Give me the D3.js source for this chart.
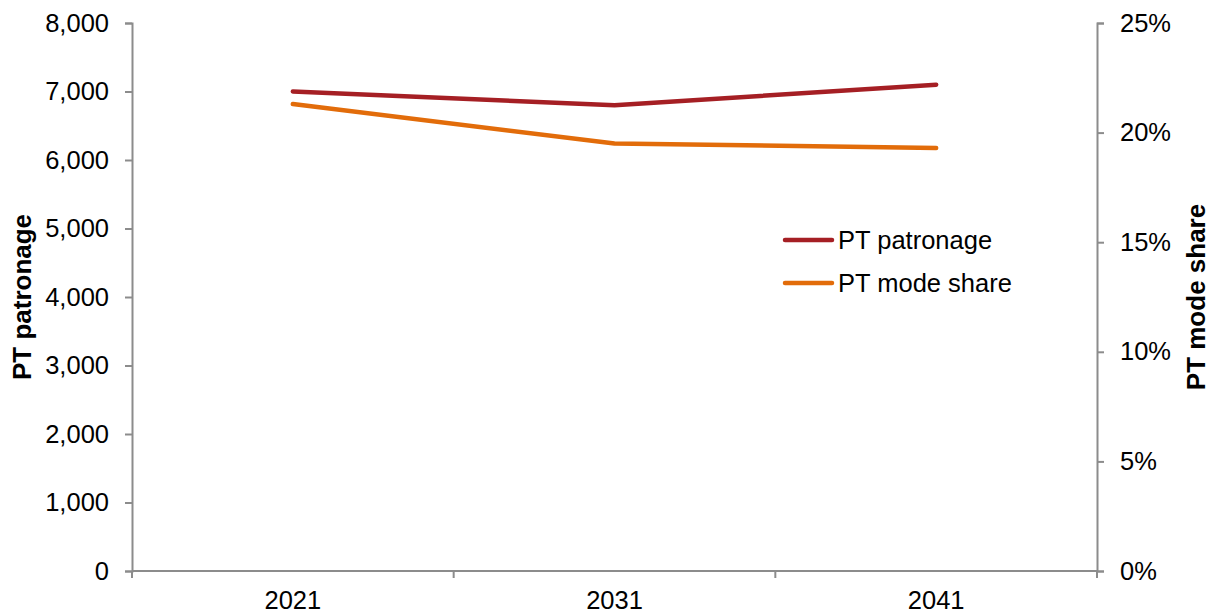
<!DOCTYPE html>
<html><head><meta charset="utf-8">
<script src="https://cdn.jsdelivr.net/npm/d3@7"></script>
<style>body{margin:0;background:#fff}svg{display:block;font-family:"Liberation Sans",Arial,sans-serif}</style>
</head><body><svg id="c" width="1219" height="613"></svg>
<script>
const years = ["2021","2031","2041"];
const patronage = [7000, 6800, 7100];
const modeShare = [0.213, 0.195, 0.193];
const leftTicks = [0,1000,2000,3000,4000,5000,6000,7000,8000];
const rightTicks = [0,0.05,0.10,0.15,0.20,0.25];
const seriesNames = ["PT patronage","PT mode share"];
const colors = ["#A51F24","#E26C0A"];

const svg = d3.select("#c");
const L = 132, R = 1097, T = 23, B = 571;
const axisColor = "#8c8c8c";
const fs = 25.5;

const x = d3.scaleBand().domain(years).range([L, R]).paddingInner(0).paddingOuter(0);
const yL = d3.scaleLinear().domain([0, 8000]).range([B, T]);
const yR = d3.scaleLinear().domain([0, 0.25]).range([B, T]);

const gl = svg.append("g").attr("transform", `translate(${L},0)`)
  .call(d3.axisLeft(yL).tickValues(leftTicks).tickFormat(d3.format(",")).tickSize(7).tickPadding(16));
const gr = svg.append("g").attr("transform", `translate(${R},0)`)
  .call(d3.axisRight(yR).tickValues(rightTicks).tickFormat(d3.format(".0%")).tickSize(7).tickPadding(16));
const gb = svg.append("g").attr("transform", `translate(0,${B})`);
gb.append("line").attr("x1", L).attr("x2", R).attr("y1", 0).attr("y2", 0).attr("stroke", axisColor).attr("stroke-width", 2);
const bounds = years.map(d => x(d)).concat([x(years[years.length-1]) + x.bandwidth()]);
gb.selectAll("line.t").data(bounds).join("line").attr("class","t")
  .attr("x1", d => d).attr("x2", d => d).attr("y1", 0).attr("y2", 7).attr("stroke", axisColor).attr("stroke-width", 2);
gb.selectAll("text").data(years).join("text")
  .attr("x", d => x(d) + x.bandwidth()/2).attr("y", 38)
  .attr("text-anchor","middle").attr("font-size", fs).attr("fill","#000").text(d => d);

[gl, gr].forEach(g => {
  g.select(".domain").attr("stroke", axisColor).attr("stroke-width", 2);
  g.selectAll(".tick line").attr("stroke", axisColor).attr("stroke-width", 2);
  g.selectAll(".tick text").attr("font-size", fs).attr("fill", "#000")
   .attr("font-family", '"Liberation Sans",Arial,sans-serif');
});

svg.append("text").attr("transform", `translate(31,${(T+B)/2}) rotate(-90)`)
  .attr("text-anchor","middle").attr("font-size", 26).attr("font-weight","bold").text("PT patronage");
svg.append("text").attr("transform", `translate(1205,${(T+B)/2}) rotate(-90)`)
  .attr("text-anchor","middle").attr("font-size", 26).attr("font-weight","bold").text("PT mode share");

const cx = d => x(d) + x.bandwidth()/2;
const lineL = d3.line().x((d,i) => cx(years[i])).y(d => yL(d));
const lineR = d3.line().x((d,i) => cx(years[i])).y(d => yR(d));
svg.append("path").datum(patronage).attr("d", lineL).attr("fill","none")
  .attr("stroke", colors[0]).attr("stroke-width", 4.5).attr("stroke-linecap","round").attr("stroke-linejoin","round");
svg.append("path").datum(modeShare).attr("d", lineR).attr("fill","none")
  .attr("stroke", colors[1]).attr("stroke-width", 4.5).attr("stroke-linecap","round").attr("stroke-linejoin","round");

const lg = svg.append("g");
seriesNames.forEach((n, i) => {
  const yy = 240 + i*43;
  lg.append("line").attr("x1", 785).attr("x2", 832).attr("y1", yy).attr("y2", yy)
    .attr("stroke", colors[i]).attr("stroke-width", 4.5).attr("stroke-linecap","round");
  lg.append("text").attr("x", 838).attr("y", yy).attr("dy","0.35em")
    .attr("font-size", fs).attr("fill","#000").text(n);
});
</script></body></html>
